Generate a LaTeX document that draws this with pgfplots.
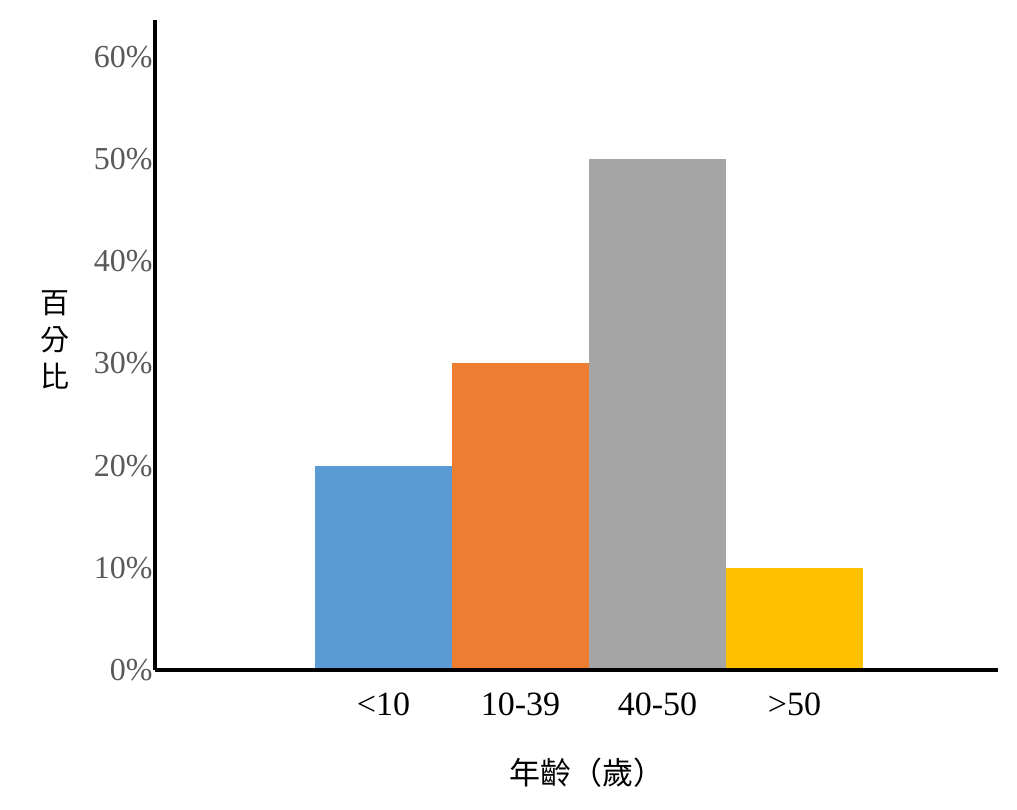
\documentclass[border=0pt]{standalone}
\usepackage{fontspec}
\setmainfont{Liberation Serif}
\newfontfamily\cjk{Noto Sans CJK TC}
\usepackage{pgfplots}
\pgfplotsset{compat=1.18}
\definecolor{cblue}{HTML}{5B9BD5}
\definecolor{corange}{HTML}{ED7D31}
\definecolor{cgray}{HTML}{A5A5A5}
\definecolor{cgold}{HTML}{FFC000}
\definecolor{ticktext}{HTML}{595959}
\begin{document}
\begin{tikzpicture}
\useasboundingbox (-77.5pt,-69.5pt) rectangle (431pt,335pt);
\begin{axis}[
  at={(0,0)}, anchor=south west,
  scale only axis, width=421.5pt, height=325pt,
  xmin=-0.668, xmax=5.485, ymin=0, ymax=63.6,
  axis x line*=bottom, axis y line*=left,
  axis line style={line width=1.6pt, black},
  axis on top=true,
  ytick={0,10,20,30,40,50,60},
  yticklabel={\pgfmathprintnumber{\tick}\%},
  xtick={1,2,3,4}, xticklabels={<10,10-39,40-50,>50},
  major tick length=0pt,
  /pgf/number format/assume math mode=true,
  yticklabel style={font=\fontsize{16}{18}\selectfont, text=ticktext, inner sep=1pt},
  xticklabel style={font=\fontsize{17}{20}\selectfont, text=black, yshift=-8pt},
  ybar, bar width=1, bar shift=0pt,
]
\addplot[fill=cblue, draw=none] coordinates {(1,20)};
\addplot[fill=corange, draw=none] coordinates {(2,30)};
\addplot[fill=cgray, draw=none] coordinates {(3,50)};
\addplot[fill=cgold, draw=none] coordinates {(4,10)};
\end{axis}
\node[align=center, font=\cjk\fontsize{14.5}{18.5}\selectfont] at (-50pt,165pt) {百\\分\\比};
\node[font=\cjk\fontsize{15.5}{18}\selectfont] at (216pt,-51.5pt) {年齡（歲）};
\end{tikzpicture}
\end{document}
